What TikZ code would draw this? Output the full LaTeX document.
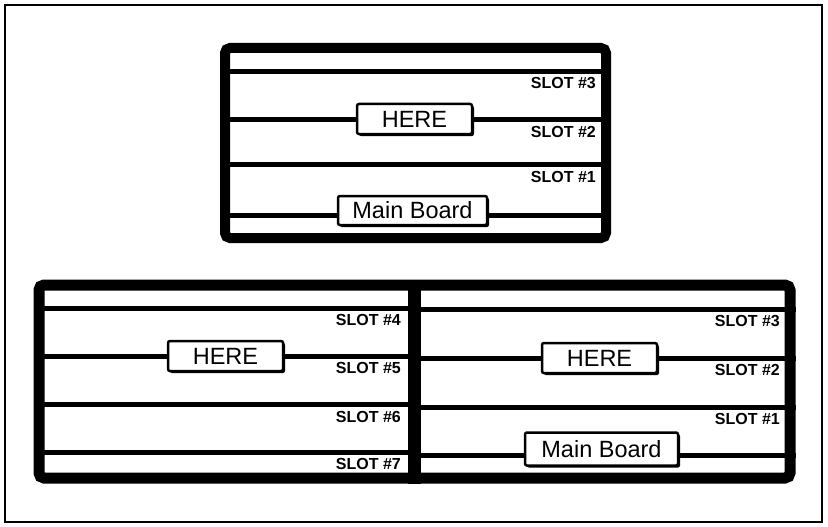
\documentclass[tikz,border=0pt]{standalone}
\usepackage{fontspec}
\setmainfont{Liberation Sans}
\usetikzlibrary{shadows, calc}

\begin{document}
\begin{tikzpicture}[
  x=1pt, y=-1pt,
  frame/.style={draw, line width=#1, rounded corners=5pt, inner sep=0pt},
  slotline/.style={line width=5pt},
  card/.style={draw, line width=2.5pt, fill=white, rounded corners=2pt, inner sep=0pt,
    font=\fontsize{23.5}{24}\selectfont,
    drop shadow={shadow xshift=2pt, shadow yshift=-2pt, opacity=1, fill=black}},
  slotlab/.style={anchor=east, inner sep=0pt, font=\fontsize{16}{16}\selectfont\bfseries},
]
\useasboundingbox (0,0) rectangle (828,527);
% outer page frame
\node[draw, line width=2pt, minimum width=817pt, minimum height=517pt, inner sep=0pt] (page) at (413.5,263.5) {};

% Top case: three slots
\node[frame=10pt, minimum width=381pt, minimum height=190pt] (topcase) at (415.5,143) {};
\node[card, minimum width=115pt, minimum height=30pt] (here) at (414.5,119) {HERE};
\node[card, minimum width=149pt, minimum height=29pt] (mainbd) at (412.5,210.5) {Main Board};

\draw[slotline] (topcase.west |- 0,72) -- (topcase.east |- 0,72);
\draw[slotline] (topcase.west |- here) -- (here.west);
\draw[slotline] (here.east) -- (topcase.east |- here);
\draw[slotline] (topcase.west |- 0,164) -- (topcase.east |- 0,164);
\draw[slotline] (topcase.west |- 0,215) -- (mainbd.west |- 0,215);
\draw[slotline] (mainbd.east |- 0,215) -- (topcase.east |- 0,215);

\foreach \yy/\num in {83/3, 132/2, 177/1}
  \node[slotlab] (top\num) at (596,\yy) {SLOT \#\num};

% Bottom case: expansion chassis (left) and main unit (right)
\node[frame=11pt, minimum width=751pt, minimum height=193pt] (botcase) at (414.5,381.5) {};
\draw[line width=13pt] (botcase.north) -- (botcase.south);
\coordinate (mid) at (botcase.north);

\node[card, minimum width=115pt, minimum height=30pt] (hereL) at (225.5,356) {HERE};
\node[card, minimum width=115pt, minimum height=30pt] (hereR) at (599.5,358) {HERE};
\node[card, minimum width=153pt, minimum height=33pt] (mainbdR) at (601.5,449) {Main Board};

% left half
\draw[slotline] (botcase.west |- 0,308) -- (mid |- 0,308);
\draw[slotline] (botcase.west |- hereL) -- (hereL.west);
\draw[slotline] (hereL.east) -- (mid |- hereL);
\draw[slotline] (botcase.west |- 0,404) -- (mid |- 0,404);
\draw[slotline] (botcase.west |- 0,452) -- (mid |- 0,452);

\foreach \yy/\num in {320/4, 368/5, 417/6, 464/7}
  \node[slotlab] (left\num) at (401,\yy) {SLOT \#\num};

% right half
\draw[slotline] (mid |- 0,309) -- (botcase.east |- 0,309);
\draw[slotline] (mid |- hereR) -- (hereR.west);
\draw[slotline] (hereR.east) -- (botcase.east |- hereR);
\draw[slotline] (mid |- 0,407) -- (botcase.east |- 0,407);
\draw[slotline] (mid |- 0,455) -- (mainbdR.west |- 0,455);
\draw[slotline] (mainbdR.east |- 0,455) -- (botcase.east |- 0,455);

\foreach \yy/\num in {321/3, 370/2, 419/1}
  \node[slotlab] (right\num) at (780,\yy) {SLOT \#\num};
\end{tikzpicture}
\end{document}
